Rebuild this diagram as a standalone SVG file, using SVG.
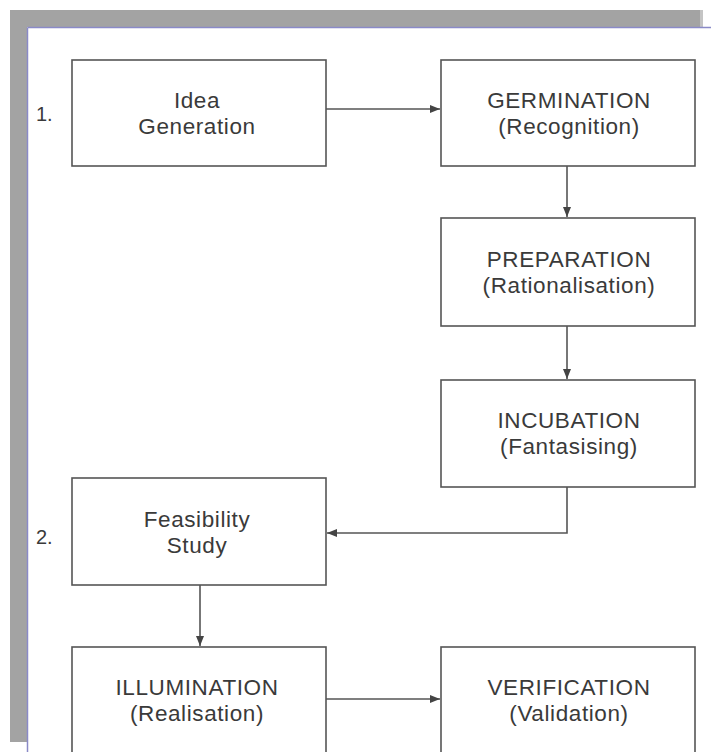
<svg xmlns="http://www.w3.org/2000/svg" width="711" height="752" viewBox="0 0 711 752">
<style>
.box{fill:#fff;stroke:#555;stroke-width:1.6}
.t{font-family:"Liberation Sans",Arial,sans-serif;font-size:22.5px;letter-spacing:0.6px;fill:#3a3a3a;text-anchor:middle}
.n{font-family:"Liberation Sans",Arial,sans-serif;font-size:20px;fill:#3a3a3a}
.c{fill:none;stroke:#555;stroke-width:1.6}
</style>
<defs>
<marker id="ah" viewBox="0 0 10 8" refX="10" refY="4" markerWidth="10" markerHeight="8" markerUnits="userSpaceOnUse" orient="auto">
<path d="M0,0 L10,4 L0,8 Z" fill="#444"/>
</marker>
</defs>
<rect width="711" height="752" fill="#fff"/>
<g id="frame">
<rect x="10" y="10" width="693" height="17" fill="#a3a3a3"/>
<rect x="10" y="10" width="17" height="732" fill="#a3a3a3"/>
<rect x="700" y="10" width="3" height="17" fill="#c4c4c4"/>
<line x1="27.5" y1="27.5" x2="711" y2="27.5" stroke="#8a8ac8" stroke-width="1.5"/>
<line x1="27.5" y1="27.5" x2="27.5" y2="752" stroke="#8a8ac8" stroke-width="1.5"/>
</g>
<g id="connectors">
<line class="c" x1="326" y1="109" x2="440" y2="109" marker-end="url(#ah)"/>
<line class="c" x1="567" y1="166" x2="567" y2="217" marker-end="url(#ah)"/>
<line class="c" x1="567" y1="326" x2="567" y2="379" marker-end="url(#ah)"/>
<polyline class="c" points="567,487 567,533 327,533" marker-end="url(#ah)"/>
<line class="c" x1="200" y1="585" x2="200" y2="646" marker-end="url(#ah)"/>
<line class="c" x1="326" y1="699" x2="440" y2="699" marker-end="url(#ah)"/>
</g>
<g id="label1"><text class="n" x="36" y="121">1.</text></g>
<g id="label2"><text class="n" x="36" y="544">2.</text></g>
<g id="idea">
<rect class="box" x="72" y="60" width="254" height="106"/>
<text class="t" x="197" y="108">Idea</text>
<text class="t" x="197" y="134">Generation</text>
</g>
<g id="germination">
<rect class="box" x="441" y="60" width="254" height="106"/>
<text class="t" x="569" y="108">GERMINATION</text>
<text class="t" x="569" y="134">(Recognition)</text>
</g>
<g id="preparation">
<rect class="box" x="441" y="218" width="254" height="108"/>
<text class="t" x="569" y="267">PREPARATION</text>
<text class="t" x="569" y="293">(Rationalisation)</text>
</g>
<g id="incubation">
<rect class="box" x="441" y="380" width="254" height="107"/>
<text class="t" x="569" y="428">INCUBATION</text>
<text class="t" x="569" y="454">(Fantasising)</text>
</g>
<g id="feasibility">
<rect class="box" x="72" y="478" width="254" height="107"/>
<text class="t" x="197" y="527">Feasibility</text>
<text class="t" x="197" y="553">Study</text>
</g>
<g id="illumination">
<rect class="box" x="72" y="647" width="254" height="120"/>
<text class="t" x="197" y="695">ILLUMINATION</text>
<text class="t" x="197" y="721">(Realisation)</text>
</g>
<g id="verification">
<rect class="box" x="441" y="647" width="254" height="120"/>
<text class="t" x="569" y="695">VERIFICATION</text>
<text class="t" x="569" y="721">(Validation)</text>
</g>
</svg>
